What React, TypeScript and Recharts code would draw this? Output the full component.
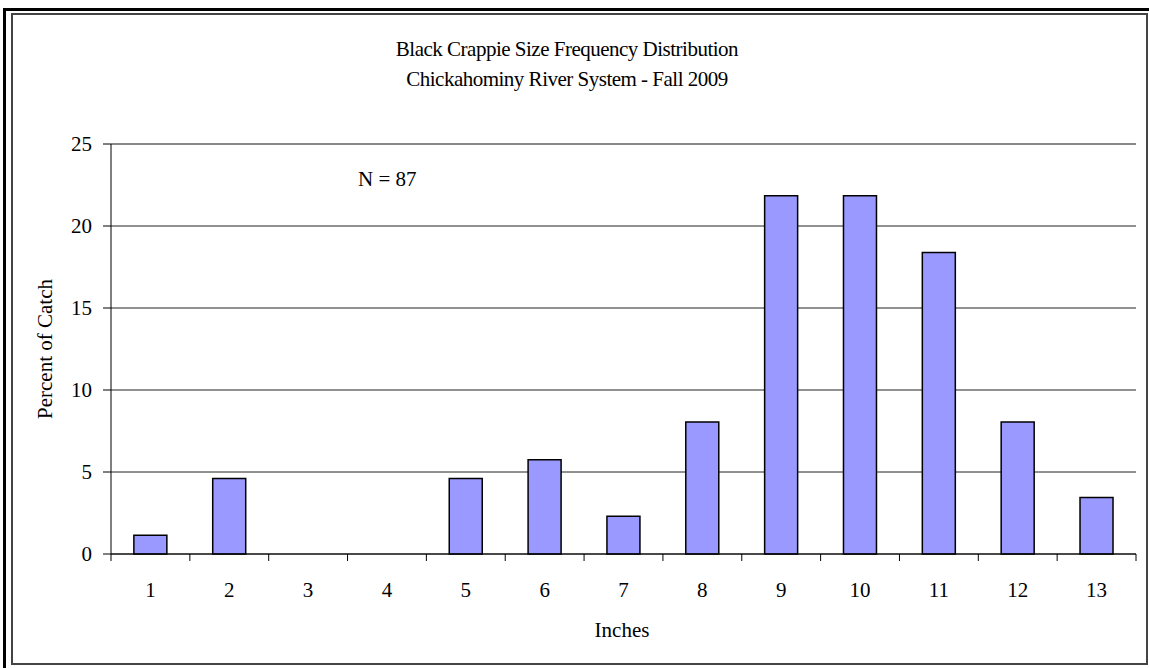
import React from 'react'
import { BarChart, Bar, XAxis, YAxis, CartesianGrid, ReferenceLine } from 'recharts'

// Black crappie, Chickahominy River System, fall 2009
const INCHES = ['1', '2', '3', '4', '5', '6', '7', '8', '9', '10', '11', '12', '13']
const PERCENT_OF_CATCH = [1.15, 4.6, 0, 0, 4.6, 5.75, 2.3, 8.05, 21.84, 21.84, 18.39, 8.05, 3.45]
const Y_TICKS = [0, 5, 10, 15, 20, 25]

const data = INCHES.map((inch, i) => ({ inch, pct: PERCENT_OF_CATCH[i] }))

const W = 1149
const H = 668
const MARGIN = { top: 144, right: 13, left: 51, bottom: 84 }
const Y_AXIS_W = 60
const PLOT_W = W - MARGIN.left - Y_AXIS_W - MARGIN.right
const BAND = PLOT_W / INCHES.length
const TICK = 7
const FONT = '"Liberation Serif", "Times New Roman", serif'

// ticks sit between the categories, like Excel
function InchTick(props: any) {
  const { x, y, payload, index } = props
  const last = index === INCHES.length - 1
  return (
    <g>
      <line x1={x - BAND / 2} x2={x - BAND / 2} y1={y - TICK} y2={y} stroke="#000" />
      {last && <line x1={x + BAND / 2} x2={x + BAND / 2} y1={y - TICK} y2={y} stroke="#000" />}
      <text x={x} y={y + 36} textAnchor="middle" fontSize={21} fontFamily={FONT} fill="#000">
        {payload.value}
      </text>
    </g>
  )
}

export default function App() {
  return (
    <div style={{ position: 'absolute', left: 0, top: 0, width: W, height: H, background: '#fff', fontFamily: FONT, color: '#000' }}>
      <BarChart width={W} height={H} data={data} margin={MARGIN} barCategoryGap="29%">
        <CartesianGrid vertical={false} stroke="#222" />
        <ReferenceLine y={25} stroke="#808080" />
        <XAxis
          dataKey="inch"
          interval={0}
          height={30}
          tickSize={TICK}
          tickMargin={0}
          tickLine={false}
          axisLine={{ stroke: '#000' }}
          tick={<InchTick />}
        />
        <YAxis
          width={Y_AXIS_W}
          domain={[0, 25]}
          ticks={Y_TICKS}
          tickSize={8}
          tickMargin={11}
          axisLine={{ stroke: '#000' }}
          tickLine={{ stroke: '#000' }}
          tick={{ fill: '#000', fontSize: 21, fontFamily: FONT }}
        />
        <YAxis
          yAxisId="edge"
          orientation="right"
          width={0}
          domain={[0, 25]}
          tick={false}
          tickLine={false}
          axisLine={{ stroke: '#808080' }}
        />
        <Bar dataKey="pct" fill="#9999FF" stroke="#000" strokeWidth={1.5} isAnimationActive={false} />
      </BarChart>

      <div style={{ position: 'absolute', left: 0, top: 34, width: 1134, textAlign: 'center', fontSize: 21, letterSpacing: '-0.5px', lineHeight: '30px' }}>
        Black Crappie Size Frequency Distribution
        <br />
        Chickahominy River System - Fall 2009
      </div>
      <div style={{ position: 'absolute', left: 358, top: 167, fontSize: 21, lineHeight: '24px', whiteSpace: 'nowrap' }}>N = 87</div>
      <div
        style={{
          position: 'absolute', left: 45, top: 349, fontSize: 21, whiteSpace: 'nowrap',
          transform: 'translate(-50%, -50%) rotate(-90deg)',
        }}
      >
        Percent of Catch
      </div>
      <div style={{ position: 'absolute', left: 622, top: 630, fontSize: 21, whiteSpace: 'nowrap', transform: 'translate(-50%, -50%)' }}>
        Inches
      </div>

      {/* frame */}
      <div style={{ position: 'absolute', left: 3, top: 8, width: W - 3, height: H - 8, borderTop: '3px solid #000', borderLeft: '3px solid #000', boxSizing: 'border-box', pointerEvents: 'none' }} />
      <div style={{ position: 'absolute', left: 11, top: 13, width: 1137, height: 652, border: '2px solid #444', boxSizing: 'border-box', pointerEvents: 'none' }} />
    </div>
  )
}
